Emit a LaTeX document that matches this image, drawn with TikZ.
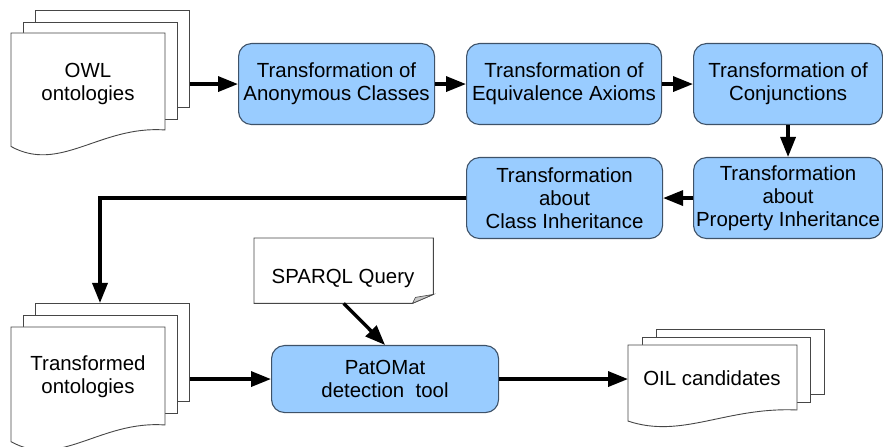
\documentclass[tikz,border=0pt]{standalone}
\usepackage{fontspec}
\setmainfont{Liberation Sans}
\usetikzlibrary{arrows.meta,calc}
\definecolor{boxfill}{RGB}{153,204,255}
\definecolor{boxline}{RGB}{62,82,104}
\definecolor{sheetline}{RGB}{70,70,70}
\definecolor{foldfill}{RGB}{200,200,200}
\tikzset{
  txt/.style={align=center, font=\fontsize{20.5}{23}\selectfont},
  proc/.style={txt, draw=boxline, fill=boxfill, rounded corners=13bp, line width=1.1bp, inner sep=0pt, anchor=north west},
  sheet/.style={draw=sheetline, fill=white, line width=0.9bp},
  sheetnode/.style={sheet, inner sep=0pt, anchor=north west},
  arr/.style={line width=3.4bp, -{Triangle[length=20bp,width=15bp]}}
}
% front sheet with wavy bottom: #1 x0, #2 y0, #3 width, #4 right height
\newcommand\frontsheet[4]{%
  \draw[sheet] (#1,#2) -- ({#1+#3},#2) -- ({#1+#3},{#2+#4})
    .. controls ({#1+0.58*#3},{#2+0.95*#4}) and ({#1+0.32*#3},{#2+1.45*#4}) ..
    (#1,{#2+1.17*#4}) -- cycle;}
\begin{document}
\begin{tikzpicture}[x=1bp,y=-1bp]
\useasboundingbox (0,0) rectangle (883,447);

% OWL ontologies stack
\node[sheetnode, minimum width=154bp, minimum height=97bp] (owlB) at (35,10) {};
\node[sheetnode, minimum width=154bp, minimum height=97bp] (owlM) at (23,22) {};
\frontsheet{11}{33}{154}{97}
\node[txt] (owl) at (88,84) {OWL\\ontologies};

% process boxes
\node[proc, minimum width=196bp, minimum height=81bp] (b1) at (238,43) {Transformation of\\Anonymous Classes};
\node[proc, minimum width=195bp, minimum height=81bp] (b2) at (466,43) {Transformation of\\Equivalence Axioms};
\node[proc, minimum width=189bp, minimum height=81bp] (b3) at (693,43) {Transformation of\\Conjunctions};
\node[proc, minimum width=189bp, minimum height=81bp] (b5) at (693,157) {Transformation\\about\\Property Inheritance};
\node[proc, minimum width=196bp, minimum height=81bp] (b4) at (466,157) {Transformation\\about\\Class Inheritance};

% Transformed ontologies stack
\node[sheetnode, minimum width=154bp, minimum height=98bp] (trB) at (35,303) {};
\node[sheetnode, minimum width=154bp, minimum height=98bp] (trM) at (23,315) {};
\frontsheet{11}{327}{154}{98}
\node[txt] (trans) at (88,377) {Transformed\\ontologies};
\coordinate (trtop) at (100,303);

% SPARQL query note
\node[inner sep=0pt, minimum width=179bp, minimum height=65bp, anchor=north west] (sparql) at (254,238) {};
\draw[sheet] (sparql.north west) -- (sparql.north east) -- ($(sparql.south east)+(0,-9)$)
  -- ($(sparql.south east)+(-21,0)$) -- (sparql.south west) -- cycle;
\draw[sheet, fill=foldfill, line width=0.6bp] ($(sparql.south east)+(-21,0)$) -- ($(sparql.south east)+(-18,-6)$) -- ($(sparql.south east)+(0,-9)$) -- cycle;
\node[txt] (sparqltext) at (343,278) {SPARQL Query};

% PatOMat
\node[proc, minimum width=227bp, minimum height=67bp] (pat) at (271,345) {PatOMat\\detection\ \ tool};

% OIL candidates stack
\node[sheetnode, minimum width=168bp, minimum height=65bp] (oilB) at (656,329) {};
\node[sheetnode, minimum width=168bp, minimum height=65bp] (oilM) at (642,337) {};
\frontsheet{628}{345}{169}{65}
\node[txt] (oil) at (712,378) {OIL candidates};
\coordinate (oilleft) at (628,378);

% connectors
\draw[arr] (owlB.east |- b1.west) -- (b1.west);
\draw[arr] (b1.east) -- (b2.west);
\draw[arr] (b2.east) -- (b3.west);
\draw[arr] (b3.south) -- (b3.south |- b5.north);
\draw[arr] (b5.west) -- (b4.east);
\draw[arr] (b4.west) -| (trtop);
\draw[arr] (trB.east |- pat.west) -- (pat.west);
\draw[arr] (sparql.south) -- (pat.north);
\draw[arr] (pat.east) -- (oilleft |- pat.east);
\end{tikzpicture}
\end{document}
